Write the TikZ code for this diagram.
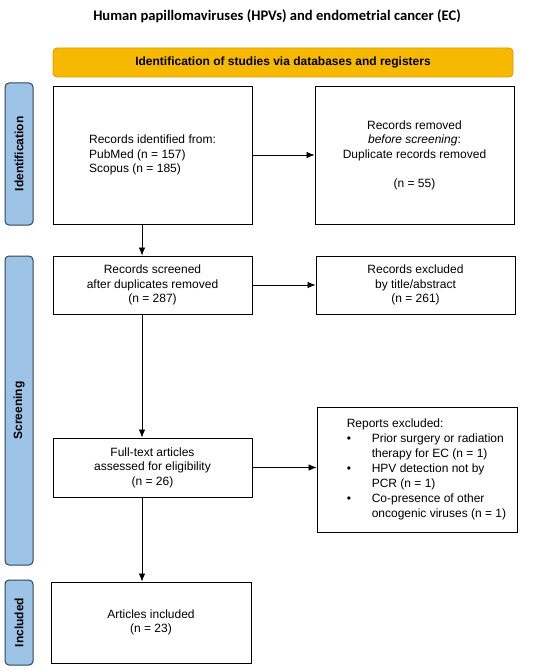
\documentclass[tikz,border=0pt]{standalone}
\usepackage{fontspec}
\setmainfont{Liberation Sans}
\newfontfamily\titlefont{Carlito}
\usetikzlibrary{arrows.meta}
\definecolor{bannerfill}{HTML}{F7B900}
\definecolor{bannerline}{HTML}{D99A00}
\definecolor{tabfill}{HTML}{9DC3E6}
\definecolor{tabline}{HTML}{2E4457}
\begin{document}
\begin{tikzpicture}[x=1pt,y=-1pt,
	box/.style={draw, line width=0.9pt, align=center, inner sep=0pt, font=\fontsize{12}{14.5}\selectfont},
	tab/.style={draw=tabline, fill=tabfill, line width=1pt, rounded corners=4pt, rotate=90, minimum height=28pt, inner sep=0pt, font=\bfseries\fontsize{12}{14}\selectfont},
	flow/.style={->, >={Latex[length=8pt,width=6.5pt]}, line width=0.8pt}]
	\useasboundingbox (0,0) rectangle (550,671);
	\node[font=\titlefont\bfseries\fontsize{14.6}{16}\selectfont] (title) at (277,16) {Human papillomaviruses (HPVs) and endometrial cancer (EC)};
	\node[draw=bannerline, fill=bannerfill, rounded corners=4pt, line width=0.8pt, minimum width=460pt, minimum height=29pt, font=\bfseries\fontsize{12}{14}\selectfont] (banner) at (283,62.5) {Identification of studies via databases and registers};
	% phase tabs
	\node[tab, minimum width=142pt] (tabid) at (19,154) {Identification};
	\node[tab, minimum width=309pt] (tabscr) at (19,410.5) {Screening};
	\node[tab, minimum width=85pt] (tabinc) at (19,622.5) {Included};
	% boxes
	\node[box, align=left, minimum width=199pt, minimum height=138pt] (found) at (152.5,155) {Records identified from:\\PubMed (n = 157)\\Scopus (n = 185)};
	\node[box, minimum width=199pt, minimum height=138pt] (dupl) at (414.5,155) {Records removed\\\textit{before screening}:\\Duplicate records removed\\[14.5pt](n = 55)};
	\node[box, minimum width=199pt, minimum height=58pt] (screen) at (152.5,285) {Records screened\\after duplicates removed\\(n = 287)};
	\node[box, minimum width=199pt, minimum height=58pt] (excl) at (415.5,285) {Records excluded\\by title/abstract\\(n = 261)};
	\node[box, minimum width=199pt, minimum height=59pt] (full) at (152.5,467.5) {Full-text articles\\assessed for eligibility\\(n = 26)};
	\node[box, minimum width=200pt, minimum height=125pt] (rep) at (417,469.5) {};
	\node[anchor=west, align=left, inner sep=0pt, font=\fontsize{12}{15}\selectfont] (reptxt) at ([xshift=30pt]rep.west) {Reports excluded:\\
		\makebox[25pt][l]{\textbullet}Prior surgery or radiation\\
		\hspace*{25pt}therapy for EC (n = 1)\\
		\makebox[25pt][l]{\textbullet}HPV detection not by\\
		\hspace*{25pt}PCR (n = 1)\\
		\makebox[25pt][l]{\textbullet}Co-presence of other\\
		\hspace*{25pt}oncogenic viruses (n = 1)};
	\node[box, minimum width=200pt, minimum height=81pt] (incl) at (151,622.5) {Articles included\\(n = 23)};
	% arrows
	\draw[flow] (found) -- (dupl);
	\draw[flow] (screen) -- (excl);
	\draw[flow] (full.east) -- (full.east -| rep.west);
	\draw[flow] ([xshift=-10.5pt]found.south) -- ([xshift=-10.5pt]screen.north);
	\draw[flow] ([xshift=-10.5pt]screen.south) -- ([xshift=-10.5pt]full.north);
	\draw[flow] ([xshift=-10.5pt]full.south) -- ([xshift=-9pt]incl.north);
\end{tikzpicture}
\end{document}
